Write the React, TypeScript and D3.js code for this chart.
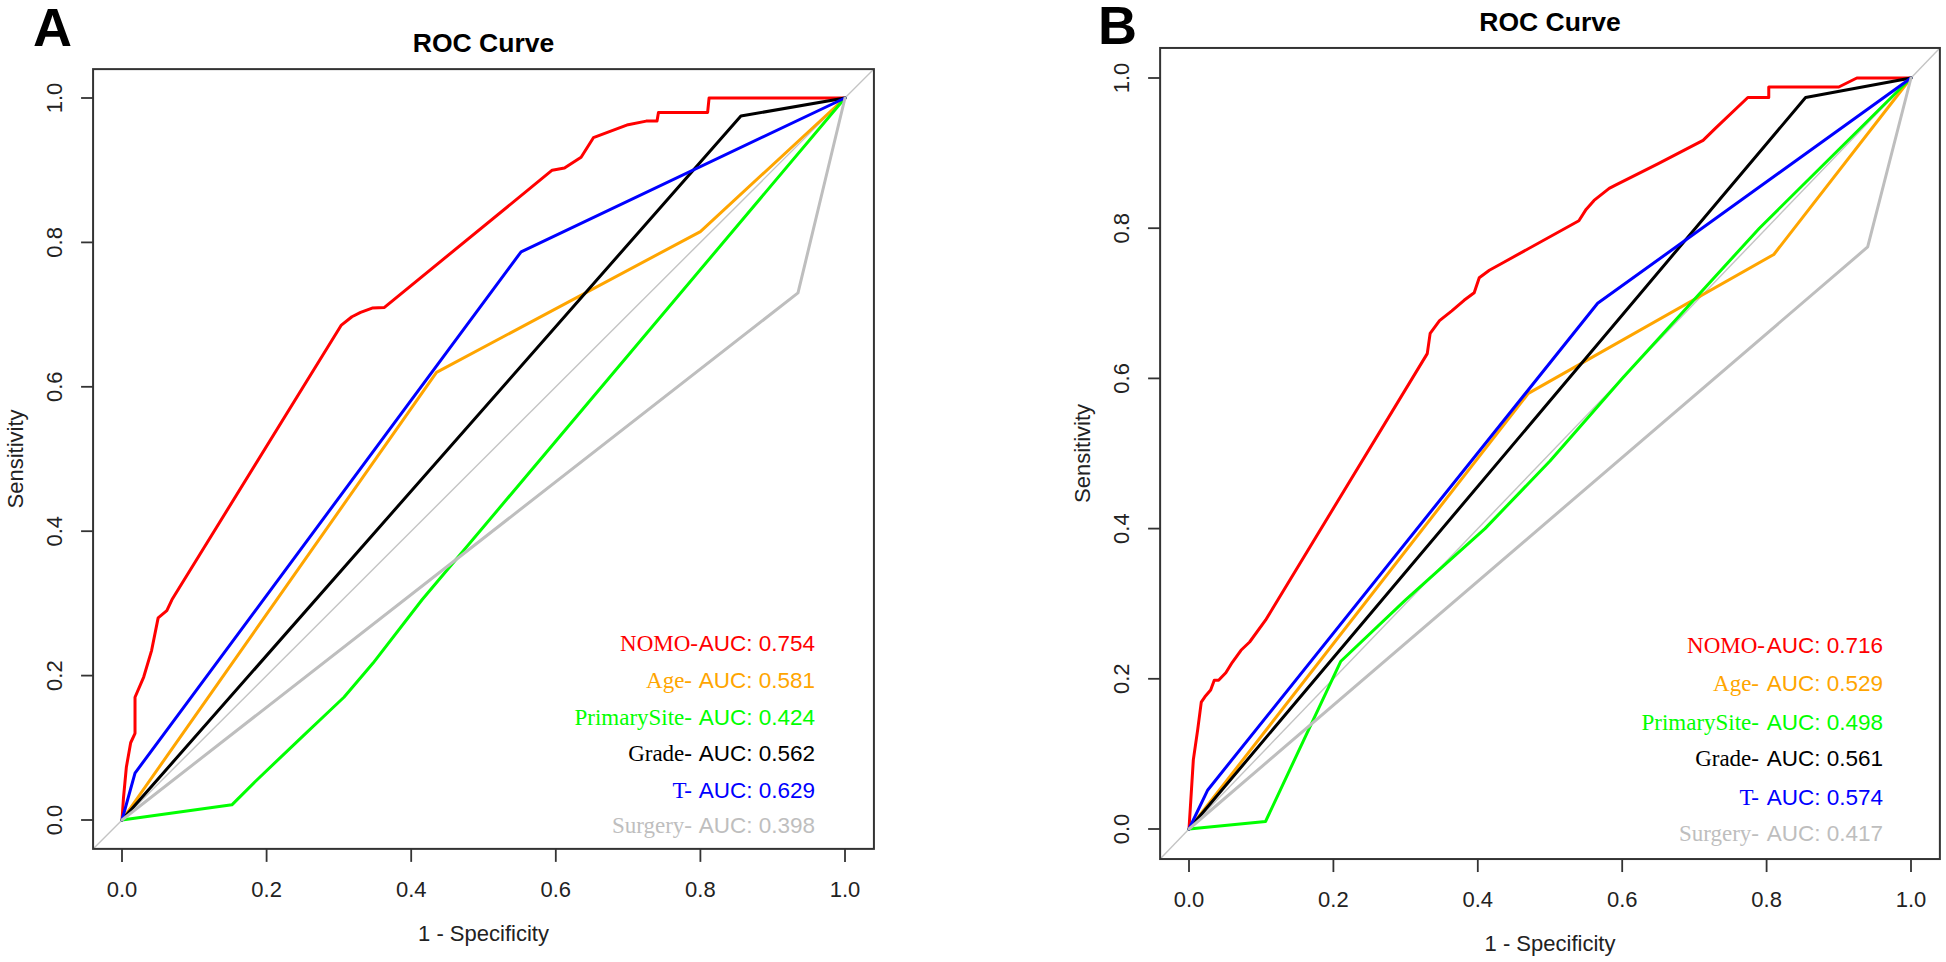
import React from "react";
import * as d3 from "d3";

// ---------- data ----------
const ticks = [0, 0.2, 0.4, 0.6, 0.8, 1.0];
const seriesNames = ["NOMO-", "Age- ", "PrimarySite- ", "Grade- ", "T- ", "Surgery- "];
const seriesColors = ["#FF0000", "#FFA500", "#00FF00", "#000000", "#0000FF", "#BEBEBE"];

const aucA = ["0.754", "0.581", "0.424", "0.562", "0.629", "0.398"];
const aucB = ["0.716", "0.529", "0.498", "0.561", "0.574", "0.417"];

// Panel A curves: [1 - specificity, sensitivity]
const nomoA = [[0,0],[0.002,0.03],[0.006,0.073],[0.012,0.107],[0.018,0.12],[0.018,0.17],[0.03,0.198],[0.041,0.235],[0.05,0.28],[0.062,0.29],[0.069,0.305],[0.303,0.685],[0.318,0.697],[0.33,0.703],[0.346,0.709],[0.363,0.71],[0.595,0.9],[0.612,0.903],[0.635,0.918],[0.652,0.945],[0.7,0.963],[0.725,0.968],[0.74,0.968],[0.742,0.98],[0.81,0.98],[0.812,1.0],[1,1]];
const ageA = [[0,0],[0.435,0.62],[0.8,0.815],[1,1]];
const siteA = [[0,0],[0.152,0.021],[0.184,0.053],[0.252,0.118],[0.288,0.152],[0.307,0.17],[0.347,0.217],[0.415,0.305],[1,1]];
const gradeA = [[0,0],[0.856,0.975],[1,1]];
const tA = [[0,0],[0.018,0.065],[0.552,0.787],[1,1]];
const surgeryA = [[0,0],[0.935,0.73],[1,1]];

// Panel B curves
const nomoB = [[0,0],[0.006,0.092],[0.012,0.132],[0.017,0.169],[0.022,0.176],[0.03,0.185],[0.035,0.198],[0.041,0.198],[0.051,0.208],[0.06,0.222],[0.072,0.238],[0.084,0.249],[0.106,0.278],[0.123,0.305],[0.33,0.633],[0.334,0.66],[0.347,0.677],[0.364,0.69],[0.381,0.704],[0.395,0.714],[0.402,0.734],[0.416,0.744],[0.433,0.753],[0.54,0.81],[0.55,0.825],[0.561,0.837],[0.582,0.853],[0.59,0.857],[0.65,0.886],[0.712,0.917],[0.729,0.933],[0.774,0.974],[0.803,0.974],[0.803,0.988],[0.9,0.988],[0.925,1.0],[1,1]];
const ageB = [[0,0],[0.47,0.58],[0.81,0.765],[1,1]];
const siteB = [[0,0],[0.106,0.01],[0.21,0.223],[0.3,0.305],[0.41,0.4],[0.5,0.49],[0.6,0.6],[0.79,0.8],[1,1]];
const gradeB = [[0,0],[0.854,0.974],[1,1]];
const tB = [[0,0],[0.026,0.052],[0.566,0.7],[1,1]];
const surgeryB = [[0,0],[0.94,0.775],[1,1]];

const SANS = "'Liberation Sans', Arial, sans-serif";
const SERIF = "'Liberation Serif', 'Times New Roman', serif";

type Panel = {
  letter: string;
  letterX: number;
  letterY: number;
  xRange: [number, number];
  yRange: [number, number];
  curves: number[][][];
  aucs: string[];
  legendRight: number;
  legendSplit: number;
  legendY: number[];
};

const panels: Panel[] = [
  {
    letter: "A", letterX: 33, letterY: 46,
    xRange: [122, 845], yRange: [820, 98],
    curves: [nomoA, ageA, siteA, gradeA, tA, surgeryA],
    aucs: aucA,
    legendRight: 815, legendSplit: 700,
    legendY: [651, 688, 725, 761, 798, 833],
  },
  {
    letter: "B", letterX: 1098, letterY: 44,
    xRange: [1189, 1911], yRange: [829, 78],
    curves: [nomoB, ageB, siteB, gradeB, tB, surgeryB],
    aucs: aucB,
    legendRight: 1883, legendSplit: 1767,
    legendY: [653, 691, 730, 766, 805, 841],
  },
];

function RocPanel({ p }: { p: Panel }) {
  const x = d3.scaleLinear().domain([0, 1]).range(p.xRange);
  const y = d3.scaleLinear().domain([0, 1]).range(p.yRange);
  const x0 = x(-0.04), x1 = x(1.04), y0 = y(-0.04), y1 = y(1.04);
  const line = d3.line<number[]>().x((d) => x(d[0])).y((d) => y(d[1]));
  const fmt = d3.format(".1f");
  const cx = (x0 + x1) / 2;
  const cy = (y0 + y1) / 2;
  return (
    <g>
      <text x={p.letterX} y={p.letterY} fontFamily={SANS} fontWeight="bold" fontSize={54}>{p.letter}</text>
      <text x={cx} y={y1 - 17} textAnchor="middle" fontFamily={SANS} fontWeight="bold" fontSize={26.5}>ROC Curve</text>
      {/* diagonal */}
      <line x1={x0} y1={y0} x2={x1} y2={y1} stroke="#C4C4C4" strokeWidth={1.4} />
      {p.curves.map((c, i) => (
        <path key={i} d={line(c) || ""} fill="none" stroke={seriesColors[i]} strokeWidth={3} strokeLinejoin="round" strokeLinecap="round" />
      ))}
      <rect x={x0} y={y1} width={x1 - x0} height={y0 - y1} fill="none" stroke="#333" strokeWidth={2} />
      {/* x axis */}
      {ticks.map((t) => (
        <g key={"x" + t}>
          <line x1={x(t)} x2={x(t)} y1={y0} y2={y0 + 13} stroke="#333" strokeWidth={1.8} />
          <text x={x(t)} y={y0 + 48} textAnchor="middle" fontFamily={SANS} fontSize={22} fill="#222">{fmt(t)}</text>
        </g>
      ))}
      {ticks.map((t) => (
        <g key={"y" + t}>
          <line x1={x0 - 12} x2={x0} y1={y(t)} y2={y(t)} stroke="#333" strokeWidth={1.8} />
          <text transform={`translate(${x0 - 31},${y(t)}) rotate(-90)`} textAnchor="middle" fontFamily={SANS} fontSize={22} fill="#222">{fmt(t)}</text>
        </g>
      ))}
      <text x={cx} y={y0 + 92} textAnchor="middle" fontFamily={SANS} fontSize={22} fill="#222">1 - Specificity</text>
      <text transform={`translate(${x0 - 70},${cy}) rotate(-90)`} textAnchor="middle" fontFamily={SANS} fontSize={22} fill="#222">Sensitivity</text>
      {/* legend */}
      {seriesNames.map((n, i) => (
        <g key={"l" + i}>
          <text x={p.legendSplit - (n.endsWith(" ") ? 8 : 2)} y={p.legendY[i]} textAnchor="end" fontFamily={SERIF} fontSize={23} fill={seriesColors[i]}>{n.trim()}</text>
          <text x={p.legendRight} y={p.legendY[i]} textAnchor="end" fontFamily={SANS} fontSize={22.5} fill={seriesColors[i]}>{"AUC: " + p.aucs[i]}</text>
        </g>
      ))}
    </g>
  );
}

export default function App() {
  return (
    <svg width={1946} height={962} style={{ position: "absolute", left: 0, top: 0, display: "block", background: "#fff" }}>
      <rect x={0} y={0} width={1946} height={962} fill="#fff" />
      {panels.map((p) => (
        <RocPanel key={p.letter} p={p} />
      ))}
    </svg>
  );
}
